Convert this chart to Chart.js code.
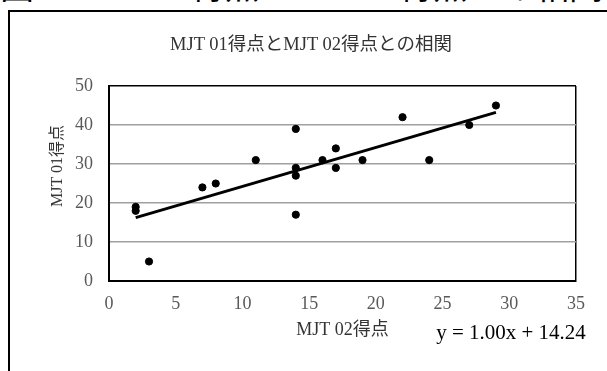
<!DOCTYPE html>
<html>
<head>
<meta charset="utf-8">
<script src="https://cdn.jsdelivr.net/npm/chart.js@4"></script>
<style>
  body { margin: 0; background: #fff; }
  #wrap { position: relative; width: 607px; height: 371px; overflow: hidden; font-family: 'Liberation Serif', 'Noto Sans CJK JP', serif; }
  #frame { position: absolute; left: 8px; top: 10px; width: 700px; height: 500px; border: 2px solid #000; }
  .txt { position: absolute; white-space: nowrap; transform: translate(-50%, -50%); }
  #caption { position: absolute; left: 0; top: -29px; font-size: 34px; line-height: 34px; white-space: nowrap; color: #000; }
  canvas { position: absolute; left: 0; top: 0; }
</style>
</head>
<body>
<div id="wrap">
  <div id="caption">図3　MJT 01得点とMJT 02得点との相関</div>
  <div id="frame"></div>
  <canvas id="scatterChart" width="607" height="371"></canvas>
  <div class="txt" style="left:311px; top:42px; font-size:18.5px; color:#333;">MJT 01得点とMJT 02得点との相関</div>
  <div class="txt" style="left:55px; top:166px; font-size:16px; color:#333; transform: translate(-50%, -50%) rotate(-90deg);">MJT 01得点</div>
  <div class="txt" style="left:511px; top:332px; font-size:21px; color:#000;">y = 1.00x + 14.24</div>
</div>
<script>
// MJT 02 score (x) vs MJT 01 score (y)
const mjt02 = [2, 2, 3, 7, 8, 11, 14, 14, 14, 14, 16, 17, 17, 19, 22, 24, 27, 29];
const mjt01 = [19, 18, 5, 24, 25, 31, 39, 29, 27, 17, 31, 34, 29, 31, 42, 31, 40, 45];
// linear trend endpoints
const trendX = [2, 29];
const trendY = [16.24, 43.24];

const fontFamily = "'Liberation Serif', 'Noto Sans CJK JP', serif";

const ctx = document.getElementById('scatterChart').getContext('2d');
const scatterChart = new Chart(ctx, {
    type: 'scatter',
    data: {
        datasets: [
            {
                data: mjt02.map((x, i) => ({ x: x, y: mjt01[i] })),
                backgroundColor: '#000',
                borderColor: '#000',
                pointRadius: 3.6,
                pointHoverRadius: 3.6
            },
            {
                data: trendX.map((x, i) => ({ x: x, y: trendY[i] })),
                showLine: true,
                borderColor: '#000',
                borderWidth: 3,
                pointRadius: 0
            }
        ]
    },
    options: {
        responsive: false,
        animation: false,
        layout: {
            padding: { top: 86, right: 31, bottom: 0, left: 0 }
        },
        scales: {
            x: {
                type: 'linear',
                min: 0,
                max: 35,
                afterFit: s => { s.height = 90; },
                ticks: {
                    stepSize: 5,
                    padding: 12,
                    color: '#595959',
                    font: { family: fontFamily, size: 18 }
                },
                title: {
                    display: true,
                    text: 'MJT 02得点',
                    color: '#333',
                    font: { family: fontFamily, size: 18 },
                    padding: { top: 0, bottom: 30 }
                },
                grid: {
                    drawTicks: false,
                    lineWidth: 1.5,
                    color: c => c.tick && c.tick.value === 35 ? '#000' : 'rgba(0,0,0,0)'
                },
                border: { color: '#000', width: 2 }
            },
            y: {
                min: 0,
                max: 50,
                afterFit: s => { s.width = 109; },
                ticks: {
                    stepSize: 10,
                    padding: 16,
                    color: '#595959',
                    font: { family: fontFamily, size: 18 }
                },
                grid: {
                    drawTicks: false,
                    lineWidth: 1.5,
                    color: c => c.tick && c.tick.value === 50 ? '#000' : '#a0a0a0'
                },
                border: { color: '#000', width: 2 }
            }
        },
        plugins: {
            legend: { display: false },
            tooltip: { enabled: false }
        }
    }
});
</script>
</body>
</html>
